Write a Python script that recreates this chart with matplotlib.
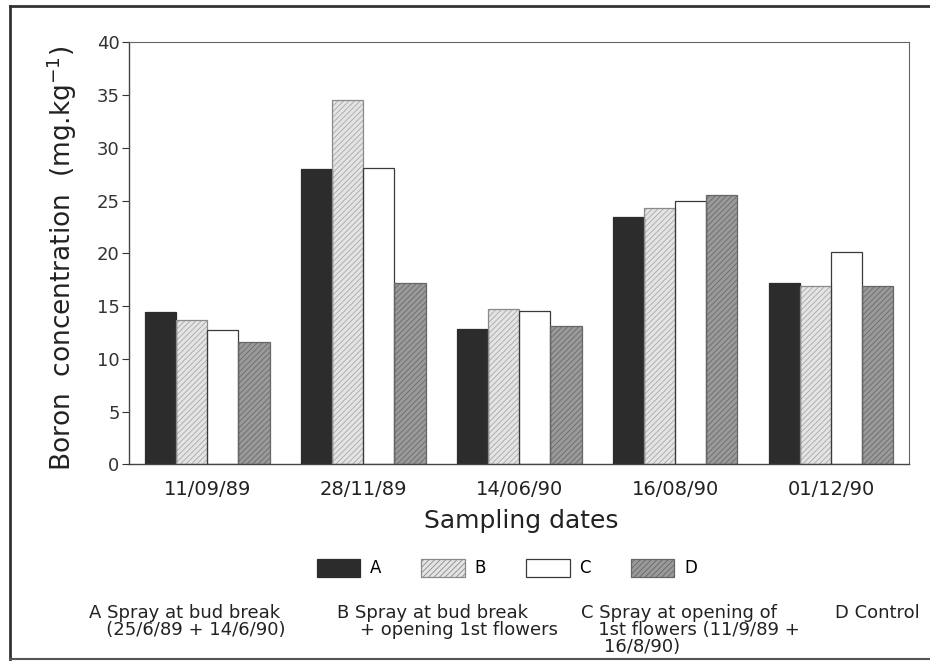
import numpy as np
import matplotlib
matplotlib.use("Agg")
import matplotlib.pyplot as plt
from matplotlib.lines import Line2D
from matplotlib.patches import Patch

# sampling dates and boron concentration (mg/kg) per treatment
dates = ['11/09/89', '28/11/89', '14/06/90', '16/08/90', '01/12/90']
treat_a = [14.4, 28.0, 12.8, 23.4, 17.2]
treat_b = [13.7, 34.5, 14.7, 24.3, 16.9]
treat_c = [12.7, 28.1, 14.5, 25.0, 20.1]
treat_d = [11.6, 17.2, 13.1, 25.5, 16.9]
series_names = ['A', 'B', 'C', 'D']
y_ticks = [0, 5, 10, 15, 20, 25, 30, 35, 40]

notes = [
    (89, ['A Spray at bud break', '   (25/6/89 + 14/6/90)']),
    (337, ['B Spray at bud break', '    + opening 1st flowers']),
    (581, ['C Spray at opening of', '   1st flowers (11/9/89 +', '    16/8/90)']),
    (835, ['D Control']),
]

plt.rcParams['font.family'] = ['DejaVu Sans']
plt.rcParams['hatch.linewidth'] = 0.6

W, H = 930, 661
fig = plt.figure(figsize=(W / 100, H / 100), dpi=100)
ax = fig.add_axes([129.3 / W, 1 - 464.3 / H, (909 - 129.3) / W, 422 / H])

styles = [
    dict(face='#2c2c2c', hatch=None, hcol='#2c2c2c', edge='#2c2c2c'),
    dict(face='#e4e4e4', hatch='//////', hcol='#a8a8a8', edge='#8a8a8a'),
    dict(face='white', hatch=None, hcol='white', edge='#3a3a3a'),
    dict(face='#9a9a9a', hatch='//////', hcol='#6a6a6a', edge='#666666'),
]

x = np.arange(len(dates))
w = 0.2
for i, (vals, st) in enumerate(zip([treat_a, treat_b, treat_c, treat_d], styles)):
    pos = x + (i - 1.5) * w
    ax.bar(pos, vals, w, color=st['face'], edgecolor=st['hcol'],
           hatch=st['hatch'], linewidth=0, zorder=2)
    ax.bar(pos, vals, w, fill=False, edgecolor=st['edge'], linewidth=0.9, zorder=3)

ax.set_xlim(-0.5, len(dates) - 0.5)
ax.set_ylim(0, 40)
ax.set_yticks(y_ticks)
ax.set_xticks(x)
ax.set_xticklabels(dates, fontsize=14, color='#222222')
ax.tick_params(axis='x', length=0, pad=11)
ax.tick_params(axis='y', labelsize=13, direction='out', length=5, width=0.8,
               pad=2, colors='#333333')

for side in ['left', 'bottom']:
    ax.spines[side].set_color('#444444')
    ax.spines[side].set_linewidth(1.0)
for side in ['top', 'right']:
    ax.spines[side].set_color('#666666')
    ax.spines[side].set_linewidth(0.8)

fig.text(62 / W, 1 - 258 / H, 'Boron  concentration  (mg.kg$^{-1}$)',
         rotation=90, ha='center', va='center', fontsize=19, color='#222222')
fig.text(521 / W, 1 - 521 / H, 'Sampling dates', ha='center', va='center',
         fontsize=18, color='#222222')

handles = [Patch(facecolor=st['face'], edgecolor=st['edge'], hatch=st['hatch'],
                 linewidth=0.9) for st in styles]
fig.legend(handles, series_names, loc='center', ncol=4,
           bbox_to_anchor=(507 / W, 1 - 568 / H), frameon=False,
           fontsize=12, handlelength=2.6, handleheight=1.3,
           handletextpad=0.6, columnspacing=2.4)

for xpos, lines in notes:
    for j, line in enumerate(lines):
        fig.text(xpos / W, 1 - (613 + j * 17) / H, line, ha='left', va='center',
                 fontsize=13, color='#222222')

# scanned frame around the figure
fig.add_artist(Line2D([10 / W, 1], [1 - 6 / H, 1 - 6 / H], color='#333333', lw=2))
fig.add_artist(Line2D([10 / W, 10 / W], [1 - 6 / H, 1 - 659 / H], color='#333333', lw=2))
fig.add_artist(Line2D([10 / W, 1], [1 - 659 / H, 1 - 659 / H], color='#555555', lw=1.5))

fig.savefig('out.png', dpi=100)
